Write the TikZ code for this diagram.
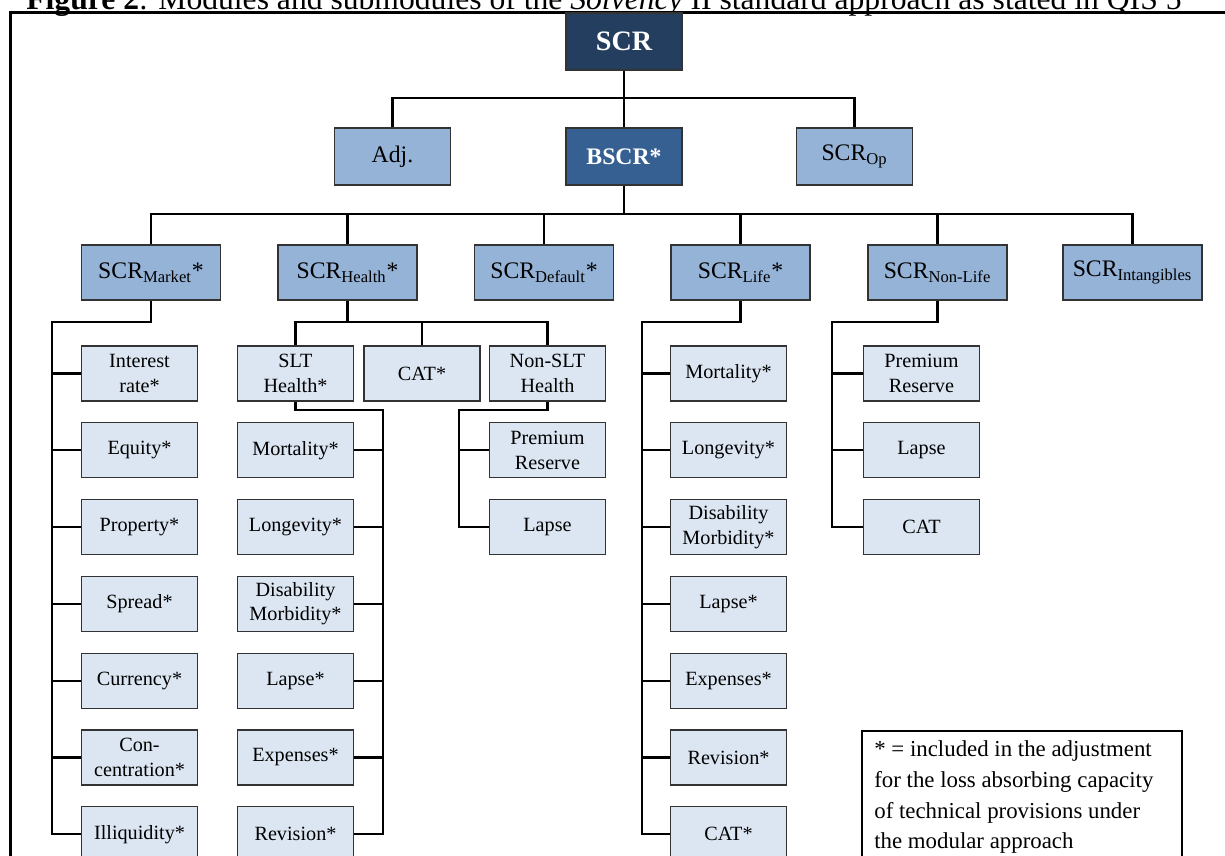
\documentclass[tikz,border=0pt]{standalone}
\usepackage{fontspec}
\setmainfont{Liberation Serif}
\definecolor{scrnavy}{RGB}{36,62,96}
\definecolor{bscrblue}{RGB}{54,96,146}
\definecolor{modblue}{RGB}{149,179,215}
\definecolor{subblue}{RGB}{220,230,242}

\begin{document}
\begin{tikzpicture}[x=0.02cm,y=-0.02cm,
    box/.style={draw=black!80,line width=0.6pt,inner sep=1pt,align=center},
    topbox/.style={box,fill=scrnavy,text=white,minimum width=2.32cm,minimum height=1.14cm,font=\fontsize{16}{19}\selectfont\bfseries},
    midbox/.style={box,fill=modblue,minimum width=2.32cm,minimum height=1.14cm,font=\fontsize{13.5}{16}\selectfont},
    modbox/.style={box,fill=modblue,minimum width=2.78cm,minimum height=1.1cm,font=\fontsize{13.5}{16}\selectfont},
    subbox/.style={box,fill=subblue,minimum width=2.32cm,minimum height=1.1cm,font=\fontsize{11.5}{13.8}\selectfont},
    link/.style={line width=1.3pt}]
    \useasboundingbox (0,0) rectangle (1225,856);
    \node[anchor=base west,inner sep=0,font=\fontsize{18}{21}\selectfont] (caption) at (26,9)
        {\textbf{Figure 2}: Modules and submodules of the \textit{Solvency} II standard approach as stated in QIS 5};
    \draw[line width=1.2pt] (10.5,900) -- (10.5,12.5) -- (1300,12.5);

    \node[topbox] (SCR) at (624,41.5) {SCR};
    \node[midbox] (Adj) at (392.5,156.5) {Adj.};
    \node[midbox,fill=bscrblue,text=white,font=\fontsize{13.5}{16}\selectfont\bfseries] (BSCR) at (624,156.5) {BSCR*};
    \node[midbox] (Op) at (854.5,156.5) {SCR\textsubscript{Op}};

    \node[modbox] (Market) at (151,272.5) {SCR\textsubscript{Market}*};
    \node[modbox] (Health) at (347.5,272.5) {SCR\textsubscript{Health}*};
    \node[modbox] (Default) at (544,272.5) {SCR\textsubscript{Default}*};
    \node[modbox] (Life) at (740.5,272.5) {SCR\textsubscript{Life}*};
    \node[modbox] (NonLife) at (937.5,272.5) {SCR\textsubscript{Non-Life}};
    \node[modbox] (Intang) at (1132.5,272.5) {SCR\textsubscript{Intangibles}};

    \node[subbox] (IntRate) at (139.5,373.5) {Interest\\rate*};
    \node[subbox] (Equity) at (139.5,450.3) {Equity*};
    \node[subbox] (Property) at (139.5,527.1) {Property*};
    \node[subbox] (Spread) at (139.5,603.9) {Spread*};
    \node[subbox] (Currency) at (139.5,680.7) {Currency*};
    \node[subbox] (Conc) at (139.5,757.5) {Con-\\centration*};
    \node[subbox] (Illiq) at (139.5,834.3) {Illiquidity*};

    \node[subbox] (SLT) at (295.5,373.5) {SLT\\Health*};
    \node[subbox] (HCAT) at (422,373.5) {CAT*};
    \node[subbox] (NonSLT) at (547.5,373.5) {Non-SLT\\Health};
    \node[subbox] (HMort) at (295.5,450.3) {Mortality*};
    \node[subbox] (HLong) at (295.5,527.1) {Longevity*};
    \node[subbox] (HDis) at (295.5,603.9) {Disability\\Morbidity*};
    \node[subbox] (HLapse) at (295.5,680.7) {Lapse*};
    \node[subbox] (HExp) at (295.5,757.5) {Expenses*};
    \node[subbox] (HRev) at (295.5,834.3) {Revision*};
    \node[subbox] (HPrem) at (547.5,450.3) {Premium\\Reserve};
    \node[subbox] (HNLapse) at (547.5,527.1) {Lapse};

    \node[subbox] (LMort) at (728.5,373.5) {Mortality*};
    \node[subbox] (LLong) at (728.5,450.3) {Longevity*};
    \node[subbox] (LDis) at (728.5,527.1) {Disability\\Morbidity*};
    \node[subbox] (LLapse) at (728.5,603.9) {Lapse*};
    \node[subbox] (LExp) at (728.5,680.7) {Expenses*};
    \node[subbox] (LRev) at (728.5,757.5) {Revision*};
    \node[subbox] (LCAT) at (728.5,834.3) {CAT*};

    \node[subbox] (NPrem) at (921.5,373.5) {Premium\\Reserve};
    \node[subbox] (NLapse) at (921.5,450.3) {Lapse};
    \node[subbox] (NCAT) at (921.5,527.1) {CAT};

    \coordinate (hubtop) at (624,98);
    \coordinate (hubmid) at (624,214);
    \coordinate (mktbus) at (52,322);
    \coordinate (hlthbus) at (347.5,322);
    \coordinate (sltbus) at (383,410);
    \coordinate (nsltbus) at (459,410);
    \coordinate (lifebus) at (642,322);
    \coordinate (nlbus) at (832,322);

    \draw[link] (SCR) -- (BSCR) (Adj.north) |- (hubtop) -| (Op.north);
    \draw[link] (BSCR) -- (hubmid) (Market.north) |- (hubmid) -| (Intang.north)
        (Health.north) -- (Health.north |- hubmid) (Default.north) -- (Default.north |- hubmid)
        (Life.north) -- (Life.north |- hubmid) (NonLife.north) -- (NonLife.north |- hubmid);
    \draw[link] (Market.south) |- (mktbus) |- (Illiq.west)
        (mktbus |- IntRate.west) -- (IntRate.west) (mktbus |- Equity.west) -- (Equity.west)
        (mktbus |- Property.west) -- (Property.west) (mktbus |- Spread.west) -- (Spread.west)
        (mktbus |- Currency.west) -- (Currency.west) (mktbus |- Conc.west) -- (Conc.west);
    \draw[link] (Health) -- (hlthbus) (SLT.north) |- (hlthbus) -| (NonSLT.north)
        (HCAT.north) -- (HCAT.north |- hlthbus);
    \draw[link] (SLT.south) |- (sltbus) |- (HRev.east)
        (sltbus |- HMort.east) -- (HMort.east) (sltbus |- HLong.east) -- (HLong.east)
        (sltbus |- HDis.east) -- (HDis.east) (sltbus |- HLapse.east) -- (HLapse.east)
        (sltbus |- HExp.east) -- (HExp.east);
    \draw[link] (NonSLT.south) |- (nsltbus) |- (HNLapse.west) (nsltbus |- HPrem.west) -- (HPrem.west);
    \draw[link] (Life.south) |- (lifebus) |- (LCAT.west)
        (lifebus |- LMort.west) -- (LMort.west) (lifebus |- LLong.west) -- (LLong.west)
        (lifebus |- LDis.west) -- (LDis.west) (lifebus |- LLapse.west) -- (LLapse.west)
        (lifebus |- LExp.west) -- (LExp.west) (lifebus |- LRev.west) -- (LRev.west);
    \draw[link] (NonLife.south) |- (nlbus) |- (NCAT.west)
        (nlbus |- NPrem.west) -- (NPrem.west) (nlbus |- NLapse.west) -- (NLapse.west);

    \draw[line width=0.6pt] (862,731) rectangle (1182,900);
    \node[anchor=north west,inner sep=0,align=left,font=\fontsize{13}{17.6}\selectfont] (note) at (874,740)
        {* = included in the adjustment\\for the loss absorbing capacity\\of technical provisions under\\the modular approach};
\end{tikzpicture}
\end{document}
